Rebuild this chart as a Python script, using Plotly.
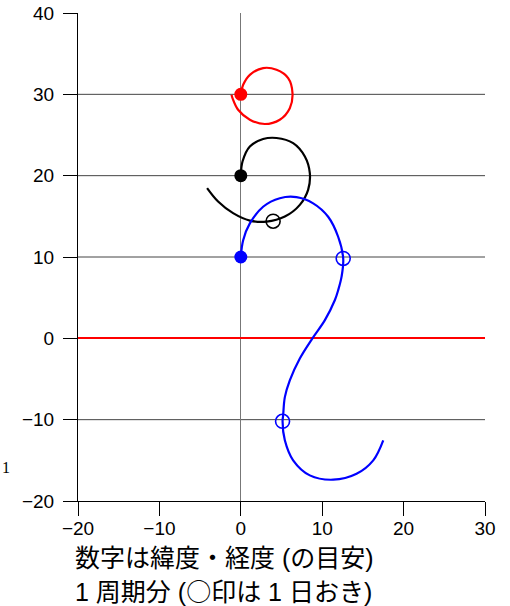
import plotly.graph_objects as go

# ---- data ----
X_TICKS = [-20, -10, 0, 10, 20, 30]
Y_TICKS = [-20, -10, 0, 10, 20, 30, 40]
GRID_Y = [-10, 10, 20, 30]

red_x = [0.0, 0.29, 1.11, 2.74, 4.39, 5.82, 6.35, 6.02, 4.79, 2.95, 1.11, -0.33, -1.02, -1.14]
red_y = [30.06, 31.17, 32.4, 33.23, 33.02, 32.0, 30.15, 28.3, 26.88, 26.35, 26.88, 28.1, 29.53, 29.94]

black_x = [0.0, 0.21, 1.11, 2.74, 4.39, 6.43, 7.87, 8.48, 8.27, 7.25, 5.41, 3.16, 1.11, -0.95, -2.79, -4.14]
black_y = [20.0, 21.74, 23.59, 24.5, 24.63, 24.0, 22.36, 20.31, 18.26, 16.41, 14.97, 14.35, 14.48, 15.39, 16.82, 18.47]

blue_x = [0.0, 0.29, 1.11, 2.74, 4.79, 6.84, 8.89, 10.73, 11.96, 12.58, 12.38, 11.96, 11.56,
          10.33, 8.8, 7.25, 6.02, 5.41, 5.2, 5.13, 5.41, 6.43, 8.48, 11.35, 14.22, 16.27, 17.5]
blue_y = [10.0, 12.07, 14.13, 16.18, 17.23, 17.36, 16.6, 14.95, 12.49, 9.82, 7.58, 5.91, 4.71,
          2.24, 0.0, -2.48, -5.17, -7.23, -9.49, -10.2, -12.54, -15.0, -16.85, -17.38, -16.65, -15.0, -12.54]

start_x = [0, 0, 0]
start_y = [30, 20, 10]
start_colors = ["#ff0000", "#000000", "#0000ff"]

black_day_x = [3.97]
black_day_y = [14.4]
blue_day_x = [12.58, 5.13]
blue_day_y = [9.82, -10.2]

TITLE1 = "数字は緯度・経度 (の目安)"
TITLE2 = "1 周期分 (<span style='font-family:Noto Sans CJK JP'>○</span>印は 1 日おき)"

LATIN = "Liberation Sans, Arial, Helvetica, sans-serif"
JP = "Liberation Sans, Noto Sans CJK JP, sans-serif"

fig = go.Figure()

for xs, ys, col in [(red_x, red_y, "#ff0000"), (black_x, black_y, "#000000"), (blue_x, blue_y, "#0000ff")]:
    fig.add_trace(go.Scatter(x=xs, y=ys, mode="lines", line=dict(color=col, width=2.2, shape="spline"),
                             hoverinfo="skip", showlegend=False))

fig.add_trace(go.Scatter(x=black_day_x, y=black_day_y, mode="markers",
                         marker=dict(symbol="circle-open", size=14, color="#000000", line=dict(width=1.6)),
                         showlegend=False))
fig.add_trace(go.Scatter(x=blue_day_x, y=blue_day_y, mode="markers",
                         marker=dict(symbol="circle-open", size=14, color="#0000ff", line=dict(width=1.6)),
                         showlegend=False))
fig.add_trace(go.Scatter(x=start_x, y=start_y, mode="markers",
                         marker=dict(symbol="circle", size=13, color=start_colors, line=dict(width=0)),
                         showlegend=False))

for gy in GRID_Y:
    fig.add_shape(type="line", xref="paper", x0=0, x1=1, yref="y", y0=gy, y1=gy,
                  line=dict(color="#444444", width=1), layer="below")

fig.update_layout(
    width=510, height=606,
    margin=dict(l=78, r=25, t=13, b=105),
    paper_bgcolor="white", plot_bgcolor="white",
    font=dict(family=LATIN, size=19, color="#000000"),
    xaxis=dict(range=[-20, 30], tickvals=X_TICKS, ticks="outside", ticklen=14, tickcolor="#000",
               showline=True, linecolor="#000", linewidth=1, showgrid=False, automargin=False,
               zeroline=True, zerolinecolor="#777777", zerolinewidth=1,
               tickfont=dict(family=LATIN, size=19), ticklabelstandoff=-4),
    yaxis=dict(range=[-20, 40], tickvals=Y_TICKS, ticks="outside", ticklen=14, tickcolor="#000",
               showline=True, linecolor="#000", linewidth=1, showgrid=False, automargin=False,
               zeroline=True, zerolinecolor="#ff0000", zerolinewidth=2,
               tickfont=dict(family=LATIN, size=19), ticklabelstandoff=5),
    annotations=[
        dict(text=TITLE1, xref="paper", yref="paper", x=-0.012, y=-0.116, xanchor="left", yanchor="middle",
             showarrow=False, font=dict(family=JP, size=25, color="#000")),
        dict(text=TITLE2, xref="paper", yref="paper", x=-0.012, y=-0.183, xanchor="left", yanchor="middle",
             showarrow=False, font=dict(family=JP, size=25, color="#000")),
        dict(text="1", xref="paper", yref="paper", x=-0.1916, y=0.069, xanchor="left", yanchor="middle",
             showarrow=False, font=dict(family="Liberation Serif, serif", size=16, color="#000")),
    ],
)

fig.write_html("out.html", config={"displayModeBar": False},
               post_script="document.body.style.margin='0';document.body.style.overflow='hidden';")
